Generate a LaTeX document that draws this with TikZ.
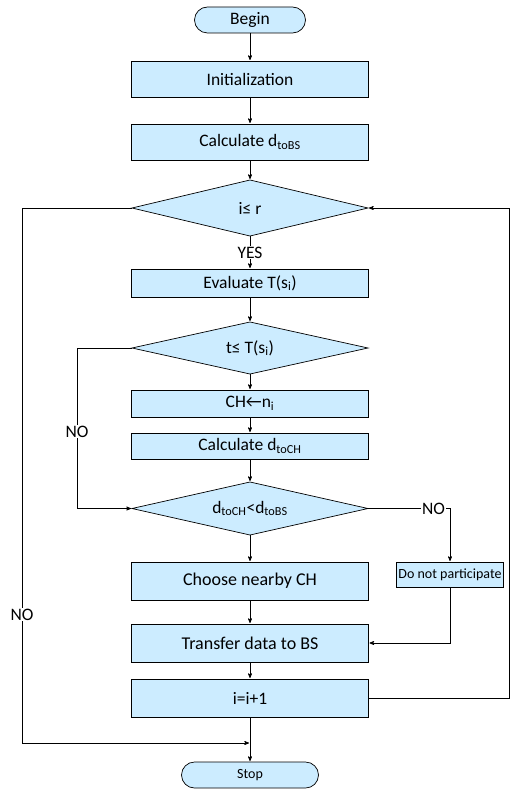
\documentclass[tikz,border=0pt]{standalone}
\usepackage{fontspec}
\setmainfont{Carlito}
\usetikzlibrary{arrows}
\usetikzlibrary{shapes.geometric,shapes.misc,positioning}
\definecolor{boxblue}{RGB}{204,236,255}

\begin{document}
\begin{tikzpicture}[>=stealth',shorten >=1pt,x=1pt,y=1pt,line width=0.7pt,
    box node/.style={rectangle,draw,fill=boxblue,minimum width=237pt,inner sep=0pt,outer sep=0pt,
                     font=\fontsize{17.5}{20}\selectfont},
    test node/.style={diamond,draw,fill=boxblue,minimum width=236pt,aspect=4.4,inner sep=0pt,outer sep=0pt,
                      font=\fontsize{17.5}{20}\selectfont},
    end node/.style={rounded rectangle,draw,fill=boxblue,inner sep=0pt,outer sep=0pt,minimum height=26pt},
    label node/.style={fill=white,inner sep=1pt,font=\fontsize{17.5}{20}\selectfont}]

  \useasboundingbox (0,0) rectangle (510,-789);

  \node[end node,minimum width=111pt,font=\fontsize{17.5}{20}\selectfont] (1) at (250,-20) {Begin};
  \node[box node,minimum height=36pt] (2) [below=28pt of 1] {Initialization};
  \node[box node,minimum height=36pt] (3) [below=27pt of 2] {Calculate d\textsubscript{toBS}};
  \node[test node,minimum height=56pt] (4) [below=20pt of 3] {i≤ r};
  \node[box node,minimum height=28pt] (5) [below=33pt of 4] {Evaluate T(s\textsubscript{i})};
  \node[test node,minimum height=52pt] (6) [below=25pt of 5] {t≤ T(s\textsubscript{i})};
  \node[box node,minimum height=27pt] (7) [below=16pt of 6] {CH←n\textsubscript{i}};
  \node[box node,minimum height=26pt] (8) [below=16pt of 7] {Calculate d\textsubscript{toCH}};
  \node[test node,minimum height=53pt] (9) [below=23pt of 8] {d\textsubscript{toCH}<d\textsubscript{toBS}};
  \node[box node,minimum height=38pt,font=\fontsize{18}{21}\selectfont] (10) [below=27pt of 9] {Choose nearby CH};
  \node[rectangle,draw,fill=boxblue,minimum width=107pt,minimum height=25pt,inner sep=0pt,outer sep=0pt,
        font=\fontsize{14}{16}\selectfont] (11) [right=28pt of 10.north east,anchor=north west] {Do not participate};
  \node[box node,minimum height=38pt,font=\fontsize{18}{21}\selectfont] (12) [below=24pt of 10] {Transfer data to BS};
  \node[box node,minimum height=38pt] (13) [below=17pt of 12] {i=i+1};
  \node[end node,minimum width=137pt,font=\fontsize{14}{16}\selectfont] (14) [below=45pt of 13] {Stop};
  \coordinate[below=26pt of 13.south] (m);

  \path[->]
    (1) edge (2)
    (2) edge (3)
    (3) edge (4)
    (4) edge node[label node] {YES} (5)
    (5) edge (6)
    (6) edge (7)
    (7) edge (8)
    (8) edge (9)
    (9) edge (10)
    (10) edge (12)
    (12) edge (13)
    (13) edge (14);

  \draw[->] (4.west) -- ++(-110,0) |- node[label node,pos=0.38] {NO} (m);
  \draw[->] (6.west) -- ++(-55,0) |- node[label node,pos=0.26] {NO} (9.west);
  \draw[->] (9.east) -| node[label node,pos=0.4] {NO} (11.north);
  \draw[->] (11.south) |- (12.east);
  \draw[->] (13.east) -- ++(140.5,0) |- (4.east);
\end{tikzpicture}
\end{document}
